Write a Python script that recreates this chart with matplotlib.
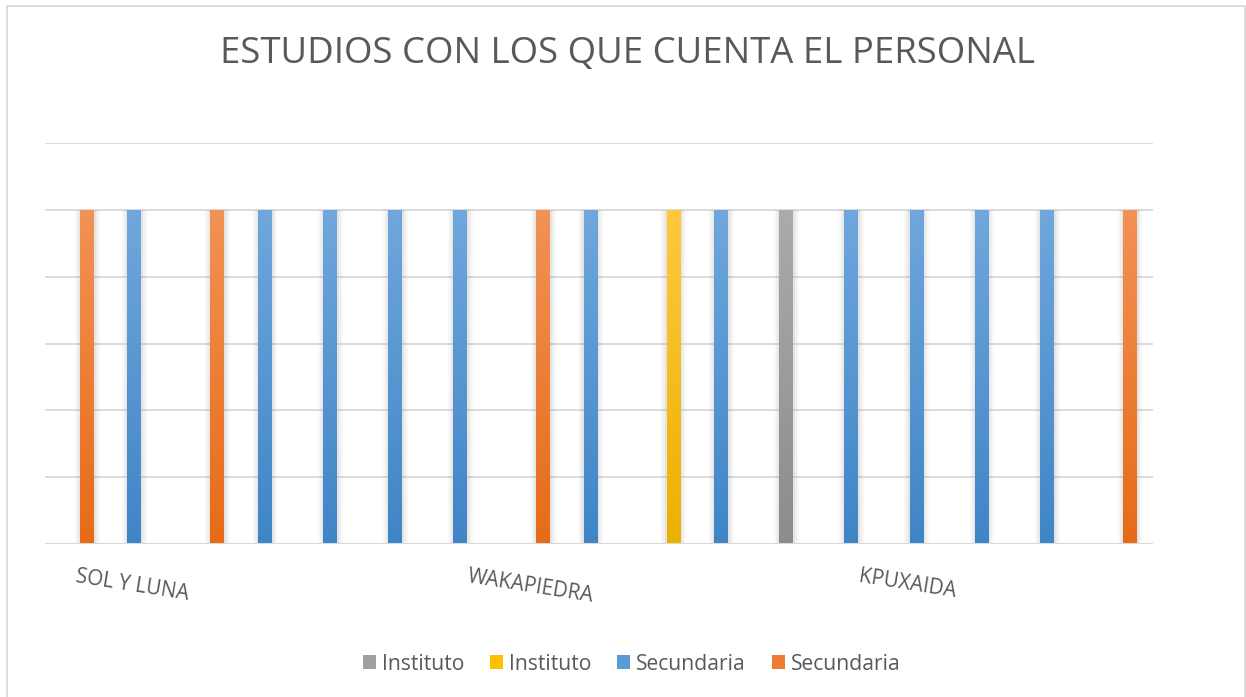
import numpy as np
import matplotlib
matplotlib.use("Agg")
import matplotlib.pyplot as plt
from matplotlib.patches import Rectangle, Patch
from matplotlib.colors import LinearSegmentedColormap
import matplotlib.transforms as mtransforms

plt.rcParams['font.family'] = ['Open Sans', 'DejaVu Sans']

title = "ESTUDIOS CON LOS QUE CUENTA EL PERSONAL"
categories = ["SOL Y LUNA", "", "", "", "", "", "WAKAPIEDRA", "", "", "", "", "",
              "KPUXAIDA", "", "", "", ""]
series_names = ["Instituto", "Instituto", "Secundaria", "Secundaria"]
instituto_gris = [0, 0, 0, 0, 0, 0, 0, 0, 0, 0, 0, 1, 0, 0, 0, 0, 0]
instituto_amarillo = [0, 0, 0, 0, 0, 0, 0, 0, 0, 1, 0, 0, 0, 0, 0, 0, 0]
secundaria_azul = [0, 1, 0, 1, 1, 1, 1, 0, 1, 0, 1, 0, 1, 1, 1, 1, 0]
secundaria_naranja = [1, 0, 1, 0, 0, 0, 0, 1, 0, 0, 0, 0, 0, 0, 0, 0, 1]

series_values = [instituto_gris, instituto_amarillo, secundaria_azul, secundaria_naranja]
# style: (top colour, bottom colour, slot offset)
styles = [("#ABABAB", "#8C8C8C", -0.136),
          ("#FFC83F", "#EBB100", 0.136),
          ("#70A7DD", "#3F85C6", -0.136),
          ("#F29256", "#E66B17", 0.136)]
legend_colors = ["#A0A0A0", "#FFC000", "#5B9BD5", "#ED7D31"]

W, H = 1246, 697
fig = plt.figure(figsize=(W / 100, H / 100), dpi=100)
fig.patch.set_facecolor("white")
fig.patches.append(Rectangle((7 / W, -0.01), (1245 - 7) / W, 1.01 - 6 / H,
                             transform=fig.transFigure, fill=False,
                             edgecolor="#D9D9D9", linewidth=1.3))

left, right = 45 / W, 1153 / W
bottom, top = 1 - 544 / H, 1 - 143 / H
ax = fig.add_axes([left, bottom, right - left, top - bottom])

x = np.arange(len(categories))
bw = 0.2
ax.set_xlim(-0.5, len(categories) - 0.5)
ax.set_ylim(0, 1.2)

for vals, (ctop, cbot, off) in zip(series_values, styles):
    cmap = LinearSegmentedColormap.from_list("g", [cbot, ctop])
    vals = np.asarray(vals, dtype=float)
    # soft shadow
    for k, a in [(1.9, 0.05), (1.6, 0.07), (1.3, 0.09)]:
        ax.bar(x + off + 0.012, np.where(vals > 0, vals, np.nan), width=bw * k,
               color="#7F7F7F", alpha=a, linewidth=0, zorder=2)
    bars = ax.bar(x + off, vals, width=bw, color=ctop, linewidth=0, zorder=3)
    for b, v in zip(bars, vals):
        if v <= 0:
            b.set_visible(False)
            continue
        grad = np.linspace(0, 1, 256).reshape(-1, 1)
        im = ax.imshow(grad, cmap=cmap, aspect="auto", origin="lower",
                       extent=[b.get_x(), b.get_x() + b.get_width(), 0, v],
                       zorder=3.5)
        im.set_clip_path(b)

ax.set_xlim(-0.5, len(categories) - 0.5)
ax.set_ylim(0, 1.2)

for yv in np.arange(0.2, 1.21, 0.2):
    ax.axhline(yv, color="#D9D9D9", linewidth=1.3, zorder=1)
ax.axhline(0, color="#D9D9D9", linewidth=2.2, zorder=4)

for s in ax.spines.values():
    s.set_visible(False)
ax.set_xticks([])
ax.set_yticks([])

trans = mtransforms.blended_transform_factory(ax.transData, fig.transFigure)
for i, lab in enumerate(categories):
    if lab:
        ax.text(x[i] + 0.005, 1 - 566 / H, lab, transform=trans, rotation=-9,
                rotation_mode="anchor", ha="left", va="top", fontsize=14.8,
                color="#595959")

fig.text(0.5 + 4 / W, 1 - 54 / H, title, ha="center", va="center",
         fontsize=26.3, color="#595959")

handles = [Patch(facecolor=c, edgecolor="none") for c in legend_colors]
leg = fig.legend(handles, series_names, loc="center", ncol=4,
                 bbox_to_anchor=(0.507, 1 - 664 / H), frameon=False,
                 fontsize=15.2, handlelength=0.62, handleheight=0.62,
                 handletextpad=0.3, columnspacing=1.2)
for t in leg.get_texts():
    t.set_color("#595959")

fig.savefig("out.png", dpi=100, facecolor="white")
